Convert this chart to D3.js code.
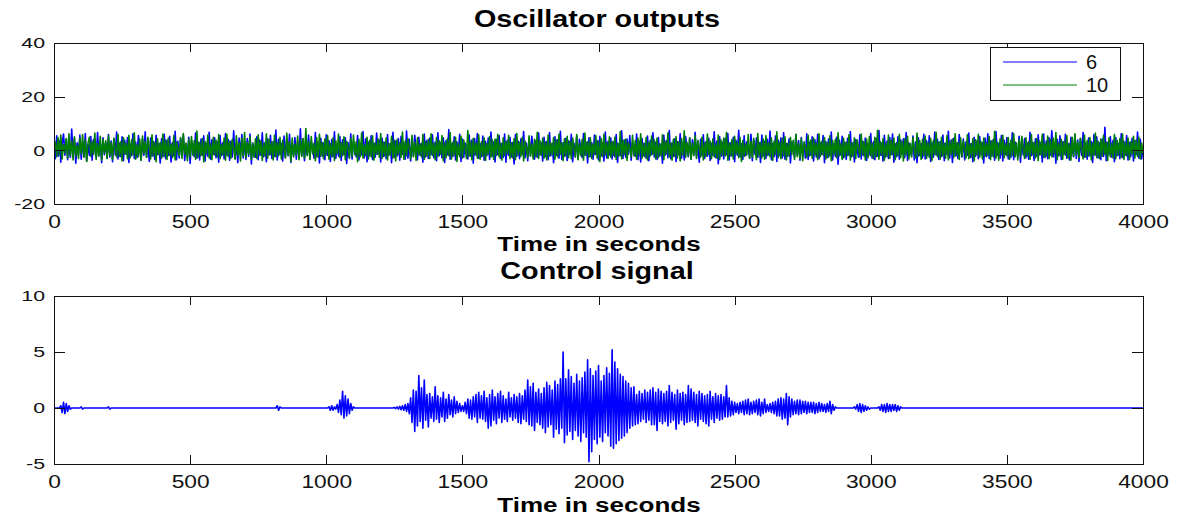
<!DOCTYPE html>
<html>
<head>
<meta charset="utf-8">
<script src="https://cdn.jsdelivr.net/npm/d3@7"></script>
<style>
    body { margin: 0; background: #fff; }
    svg { display: block; font-family: "Liberation Sans", Arial, sans-serif; }
</style>
</head>
<body>
<script>
// sample spacing of every series, in seconds
const timeStep = 5;
const xTicks = [0, 500, 1000, 1500, 2000, 2500, 3000, 3500, 4000];
const oscTicks = [-20, 0, 20, 40];
const ctrlTicks = [-5, 0, 5, 10];
const legendLabels = ["6", "10"];
const titles = ["Oscillator outputs", "Control signal"];
const xLabel = "Time in seconds";

// oscillator 6 (blue), one line = 200 s
const osc6 = [
    0.2, -3.1, 5.4, -2.2, 3.6, -4.4, 2.5, 6.1, -1.8, 4.2, -3.5, 3.0, -2.6, 7.9, -2.0, 4.5, -4.8, 2.8, -1.5, 5.7, -3.3, 3.4, -2.4, 6.3, -4.0, 2.2, -1.9, 5.1, -3.7, 4.0, 0.6, -2.8, 6.6, -2.1, 3.2, -4.6, 4.7, -1.6, 2.9, -3.0,
    5.9, -2.5, 3.5, -4.2, 4.4, -1.7, 6.8, -3.2, 2.6, -2.3, 5.0, -3.9, 3.7, -1.4, 4.8, -4.5, 2.4, -2.0, 6.2, -3.0, 3.1, -2.7, 5.5, 0.5, -3.6, 4.1, -1.8, 6.9, -2.6, 2.7, -4.1, 4.6, -2.2, 3.3, -3.4, 5.6, -1.5, 2.5, -4.7, 4.3,
    -2.4, 6.0, -3.1, 3.8, -1.9, 5.2, -4.3, 2.9, -2.1, 7.1, -3.5, 3.4, -2.8, 4.5, -1.6, 5.8, -3.8, 2.3, -2.5, 4.9, -4.9, 3.6, 0.8, -2.3, 6.4, -2.9, 3.0, -3.6, 4.2, -1.7, 5.4, -4.0, 2.6, -2.2, 6.7, -3.3, 3.9, -1.5, 4.7, -2.7,
    3.2, -4.4, 5.5, -2.0, 2.8, -3.2, 6.3, -1.8, 4.0, -3.7, 3.5, -2.5, 7.3, -3.0, 2.4, -4.6, 4.6, -1.6, 5.9, -2.8, 3.1, -3.4, 4.4, -2.2, 6.1, -5.1, 2.7, 0.4, -2.6, 5.0, -3.5, 3.8, -1.9, 6.5, -2.4, 2.9, -4.2, 4.3, -1.7, 5.6,
    -3.0, 3.3, -2.3, 7.6, -3.6, 4.1, -1.5, 2.6, -4.0, 5.3, -2.7, 3.7, -2.0, 6.0, -4.5, 2.5, -1.8, 4.8, -3.3, 3.2, -2.6, 8.0, -2.1, 4.2, -3.9, 2.8, -1.6, 5.7, -3.1, 3.5, 0.7, -2.9, 6.6, -2.4, 3.0, -4.7, 4.5, -2.2, 2.7, -3.5,
    5.8, -1.9, 3.6, -4.1, 4.0, -2.5, 6.9, -3.0, 2.4, -2.2, 5.1, -3.8, 3.9, -1.6, 4.7, -4.9, 2.9, -2.7, 6.2, -3.2, 3.4, 0.6, -2.4, 5.5, -3.6, 2.6, -1.7, 7.0, -2.8, 4.3, -4.2, 3.1, -2.0, 5.4, -3.4, 2.7, -2.6, 6.4, -1.5, 3.8,
    -4.3, 4.6, -2.3, 3.0, -3.1, 5.9, -1.8, 2.5, -4.6, 6.7, -2.6, 3.5, -2.1, 4.4, -3.7, 5.2, -1.4, 2.8, -3.3, 7.2, -2.9, 4.1, -4.0, 3.3, -2.2, 5.6, 0.5, -3.5, 4.9, -1.9, 2.6, -4.4, 6.1, -2.5, 3.7, -3.0, 4.5, -1.6, 5.8, -2.7,
    3.1, -3.9, 6.5, -2.0, 2.9, -2.8, 4.7, -4.5, 3.6, -1.7, 7.7, -3.3, 2.4, -2.3, 5.0, -3.6, 3.2, -1.5, 6.0, -4.1, 4.2, -2.6, 2.7, 0.9, -3.2, 5.7, -2.1, 3.8, -4.8, 4.4, -1.8, 6.3, -2.9, 2.5, -2.4, 5.3, -3.7, 3.4, -2.0, 4.6,
    -3.4, 6.8, -2.2, 3.1, -4.3, 4.0, -1.6, 5.5, -3.0, 2.6, -2.7, 6.1, -4.4, 3.7, -1.9, 4.8, -2.5, 2.9, -5.1, 5.9, -2.3, 3.4, -3.1, 4.3, -1.5, 7.0, -2.8, 2.7, -3.9, 4.6, -2.1, 5.2, 0.4, -3.3, 3.6, -2.6, 6.4, -1.7, 2.8, -4.0,
    4.9, -2.4, 3.3, -3.5, 6.6, -2.0, 2.5, -4.6, 5.0, -1.8, 3.9, -2.9, 7.1, -3.4, 2.8, -2.2, 4.5, -3.8, 3.5, -1.6, 6.0, -4.2, 2.6, -2.5, 5.4, -3.1, 4.1, 0.7, -2.7, 6.3, -1.9, 3.0, -4.7, 4.7, -2.3, 2.9, -3.3, 5.7, -1.5, 3.6,
    -3.6, 5.2, -2.1, 2.7, -4.0, 6.8, -2.8, 3.4, -1.7, 4.6, -3.2, 3.1, -2.4, 5.9, -4.5, 2.5, -1.9, 7.3, -3.0, 3.8, -2.6, 4.2, -1.4, 5.5, -3.7, 2.9, 0.6, -2.2, 6.1, -3.5, 3.3, -4.3, 4.4, -2.0, 2.6, -2.9, 5.3, -3.9, 3.7, -1.6,
    6.5, -2.5, 3.0, -3.4, 4.8, -2.1, 2.4, -4.8, 5.6, -1.8, 3.6, -2.7, 7.4, -3.1, 2.8, -2.3, 4.3, -4.1, 3.2, -1.5, 6.2, -2.9, 2.5, -3.6, 5.1, 0.8, -2.4, 4.7, -3.3, 3.9, -1.7, 6.7, -2.6, 2.7, -4.4, 4.1, -2.0, 5.8, -3.0, 3.3,
    -2.2, 4.5, -3.8, 2.6, -1.9, 6.9, -2.7, 3.5, -5.0, 5.0, -2.3, 3.0, -3.2, 4.4, -1.6, 6.3, -3.6, 2.8, -2.1, 4.9, -4.2, 3.7, -1.8, 7.5, -2.5, 2.4, -3.4, 5.4, -2.0, 3.2, 0.5, -2.8, 6.0, -3.9, 3.6, -1.5, 4.6, -2.6, 2.9, -4.5,
    5.7, -2.1, 3.4, -3.0, 4.1, -1.7, 7.2, -3.5, 2.6, -2.4, 5.3, -4.1, 3.8, -1.9, 4.7, -2.8, 6.5, -3.3, 2.5, -2.2, 4.3, -4.7, 3.1, 0.9, -2.6, 5.9, -1.6, 3.6, -3.7, 4.8, -2.3, 2.7, -2.9, 6.2, -3.4, 3.0, -1.8, 5.0, -4.0, 3.9,
    -2.5, 6.0, -3.1, 2.8, -1.5, 5.5, -4.6, 3.3, -2.7, 4.2, -2.0, 6.8, -3.6, 2.5, -2.3, 4.9, -5.2, 3.7, -1.7, 5.2, -2.8, 3.0, -3.4, 4.5, -1.9, 7.0, -2.4, 2.9, -4.3, 4.0, 0.6, -2.6, 5.8, -3.2, 3.4, -2.1, 4.6, -3.8, 2.6, -1.6,
    6.3, -2.9, 3.2, -3.5, 4.4, -2.2, 7.4, -1.8, 2.7, -4.0, 5.6, -2.5, 3.5, -3.0, 4.8, -1.6, 6.1, -4.4, 2.4, -2.4, 5.0, -3.3, 3.9, -1.5, 4.3, -2.7, 6.6, -3.8, 2.8, 0.7, -2.2, 5.3, -3.6, 3.1, -4.6, 4.7, -1.9, 2.5, -2.8, 6.0,
    -3.2, 3.6, -2.0, 5.4, -4.1, 2.9, -2.6, 6.8, -1.7, 4.1, -3.4, 3.3, -2.3, 5.7, -3.9, 2.6, -1.5, 7.1, -2.8, 3.8, -4.5, 4.5, -2.1, 2.7, -3.0, 5.9, 0.8, -2.5, 4.2, -3.6, 3.2, -1.8, 6.4, -2.7, 2.5, -4.2, 4.9, -2.2, 3.5, -3.1,
    5.1, -1.6, 2.8, -4.7, 4.6, -2.4, 6.2, -3.0, 3.4, -2.1, 4.0, -3.7, 7.0, -1.9, 2.6, -2.9, 5.5, -4.0, 3.7, -1.5, 4.8, -3.2, 2.4, -2.6, 6.5, -3.5, 3.1, 0.5, -2.3, 5.2, -4.4, 3.9, -1.7, 4.4, -2.8, 2.7, -3.3, 6.7, -2.0, 3.0,
    -3.8, 4.3, -2.2, 5.8, -1.6, 2.9, -4.3, 6.1, -2.7, 3.5, -3.1, 4.7, -1.8, 7.3, -2.5, 2.6, -4.8, 4.1, -2.0, 5.4, -3.4, 3.2, -1.5, 6.0, -2.9, 2.5, -3.6, 4.9, 0.7, -2.4, 5.6, -3.0, 3.8, -4.1, 4.4, -1.9, 6.6, -2.6, 2.8, -3.3,
    4.6, -2.1, 3.3, -4.5, 5.9, -1.7, 5.0, -2.8, 2.7, -3.5, 4.2, -2.3, 8.6, -3.9, 3.0, -1.6, 5.1, -2.6, 3.7, -4.2, 4.8, -2.0, 2.5, -3.1, 6.2, -2.7, 3.4, -1.8, 5.5, -3.6, 2.9, -2.4, 4.5, -4.0, 3.6, -1.5, 6.8, -2.9, 4.1, -3.2,
    1.0
];

// oscillator 10 (green), one line = 200 s
const osc10 = [
    0.5, 3.1, -2.4, 4.8, -1.6, 5.7, -3.2, 2.2, -0.9, 4.4, -2.8, 6.2, -1.9, 3.5, -3.6, 5.0, -2.1, 1.8, -3.0, 4.6, -1.3, 5.9, -2.6, 3.8, -4.1, 2.7, 4.9, -2.2, 3.3, -1.5, 6.4, -3.4, 2.5, -2.0, 5.2, -3.7, 4.0, -1.1, 3.6, -2.9,
    5.4, -1.8, 2.9, -3.5, 4.5, 0.7, -2.5, 6.0, -2.3, 3.2, -4.0, 4.7, -1.4, 2.6, -3.1, 5.6, -2.7, 3.9, -1.7, 6.5, -3.3, 2.1, -2.4, 4.2, -3.8, 5.3, -1.2, 3.4, -2.6, 4.9, 1.2, -3.2, 5.8, -2.0, 3.0, -4.2, 4.3, -1.6, 2.8, -2.9,
    6.1, -2.2, 3.7, -3.4, 4.6, -1.9, 2.3, -2.7, 5.5, -3.6, 3.1, 0.5, -2.1, 4.8, -3.0, 6.3, -1.5, 2.7, -3.9, 4.1, -2.4, 5.1, -1.8, 3.6, -3.3, 7.2, -2.6, 2.9, -2.0, 4.4, -4.3, 3.3, -1.3, 5.7, -2.8, 2.4, -3.5, 4.9, -1.7, 3.8,
    -2.5, 5.9, -3.1, 2.2, -1.6, 4.7, -3.7, 6.0, -2.3, 3.4, -2.9, 4.1, 0.9, -3.3, 5.4, -1.9, 2.8, -4.0, 4.5, -2.2, 6.6, -2.7, 3.0, -1.4, 5.0, -3.4, 2.5, -2.6, 4.3, -3.0, 5.8, -1.7, 3.5, -3.8, 2.6, -2.1, 6.2, -2.9, 4.0, -1.5,
    3.2, -3.6, 5.6, -2.4, 2.9, -2.0, 4.9, -3.2, 3.7, 0.4, -2.8, 6.4, -1.8, 3.1, -4.1, 4.6, -2.5, 2.3, -1.6, 5.3, -3.5, 3.9, -2.2, 4.4, -2.9, 8.1, -2.0, 3.3, -3.4, 5.1, -1.3, 2.6, -3.9, 4.8, -2.6, 6.0, -2.1, 3.0, -3.1, 4.2,
    -1.7, 5.5, -3.3, 2.4, -2.3, 4.7, -3.8, 3.6, -1.2, 6.1, -2.7, 2.9, -2.0, 5.0, -3.5, 3.4, 1.0, -2.9, 4.5, -2.2, 5.7, -1.6, 3.2, -4.2, 4.1, -2.4, 6.5, -2.8, 2.2, -1.9, 4.9, -3.2, 3.8, -2.5, 5.4, -3.7, 2.7, -1.4, 4.3, -2.6,
    6.3, -3.0, 3.1, -2.1, 4.6, -3.6, 2.5, -1.8, 5.2, -2.9, 3.7, -4.0, 4.0, -1.5, 2.8, -2.6, 6.8, -3.3, 3.5, -2.0, 4.4, 0.6, -3.1, 5.6, -2.4, 3.0, -3.8, 4.7, -1.7, 2.3, -2.5, 5.9, -3.4, 3.3, -2.2, 4.1, -3.0, 6.2, -1.9, 2.6,
    -3.5, 4.8, -2.3, 3.6, -1.4, 5.5, -3.9, 2.9, -2.7, 4.3, -2.0, 6.6, -3.2, 3.1, -1.8, 4.9, -4.1, 2.4, -2.4, 5.3, -2.8, 3.8, 0.8, -3.0, 7.4, -2.2, 3.4, -3.6, 4.5, -1.6, 2.7, -2.9, 5.8, -3.3, 3.2, -2.1, 4.6, -3.8, 2.5, -1.5,
    5.1, -2.6, 3.9, -3.4, 4.2, -1.9, 6.0, -2.5, 2.6, -3.7, 4.7, -2.0, 3.3, -1.3, 5.6, -3.1, 2.8, -2.8, 4.4, -3.5, 6.3, -1.7, 3.0, -2.3, 4.9, -4.0, 3.5, 0.7, -2.7, 5.4, -2.1, 2.3, -3.2, 4.1, -2.4, 6.7, -3.0, 3.6, -1.8, 4.5,
    -2.9, 3.1, -3.6, 5.7, -2.2, 2.7, -1.6, 4.8, -3.3, 3.8, -2.5, 6.1, -1.4, 2.9, -3.9, 4.3, -2.1, 5.2, -2.7, 3.4, -3.1, 4.6, 1.1, -2.4, 5.9, -3.5, 2.5, -2.0, 4.0, -3.7, 6.4, -1.9, 3.2, -2.6, 4.7, -3.0, 2.4, -1.5, 5.5, -2.8,
    3.5, -4.2, 4.4, -2.3, 6.0, -1.7, 2.8, -3.0, 5.0, -2.6, 3.3, -1.9, 4.9, -3.4, 2.6, -2.2, 7.0, -3.1, 3.7, -1.6, 4.2, -3.8, 2.9, 0.6, -2.5, 5.6, -2.0, 3.6, -3.3, 4.5, -1.8, 6.2, -2.9, 2.5, -2.4, 4.8, -3.6, 3.1, -2.1, 5.3,
    -1.5, 3.9, -3.2, 4.6, -2.7, 2.3, -2.0, 5.8, -3.5, 3.4, -1.3, 6.5, -2.4, 2.7, -3.7, 4.1, -2.2, 5.1, -2.8, 3.2, -4.0, 4.4, -1.7, 7.3, -2.6, 3.0, -2.1, 4.7, -3.3, 2.6, -1.9, 5.4, -3.0, 3.7, 0.9, -2.5, 4.9, -3.6, 2.8, -2.3,
    6.1, -1.6, 3.5, -3.1, 4.3, -2.4, 2.5, -2.9, 5.7, -3.4, 3.9, -1.8, 4.6, -2.2, 6.6, -3.7, 2.7, -2.0, 4.0, -3.2, 5.2, -1.4, 3.1, -2.7, 4.8, -4.1, 3.6, -2.3, 2.4, -1.7, 5.9, -3.0, 3.3, -2.6, 4.5, 0.5, -3.5, 6.3, -2.1, 2.9,
    -2.8, 4.2, -3.3, 5.5, -1.9, 2.8, -2.5, 4.7, -3.8, 3.5, -1.5, 6.9, -2.7, 3.0, -3.1, 4.4, -2.0, 5.0, -3.6, 2.6, -2.2, 4.9, -1.6, 3.7, -3.4, 6.0, -2.4, 2.5, -2.9, 4.3, -3.9, 3.2, 1.0, -2.6, 5.6, -2.1, 3.8, -3.0, 4.6, -1.8,
    2.7, -3.5, 6.2, -2.3, 3.4, -1.7, 4.8, -3.2, 2.9, -2.6, 5.4, -3.9, 3.6, -1.4, 4.1, -2.8, 6.5, -2.0, 2.4, -3.4, 4.5, -2.5, 3.1, -1.9, 5.8, -3.7, 2.8, -2.2, 4.7, -3.0, 3.9, 0.7, -2.4, 6.1, -1.6, 3.3, -3.6, 4.2, -2.7, 5.1,
    -2.1, 2.6, -3.1, 4.9, -2.4, 7.5, -3.3, 3.2, -1.8, 4.4, -3.7, 2.7, -2.3, 5.7, -2.9, 3.8, -1.5, 4.6, -3.5, 2.9, -2.0, 6.0, -2.7, 3.4, -4.0, 4.3, -1.7, 5.2, -3.2, 2.5, -2.5, 4.8, 0.4, -2.8, 6.4, -2.2, 3.6, -3.4, 4.1, -1.9,
    5.3, -3.0, 2.8, -2.6, 4.5, -3.8, 3.7, -1.6, 6.7, -2.4, 3.1, -3.3, 4.9, -2.1, 2.6, -2.9, 5.5, -3.6, 3.4, -1.4, 4.2, -2.7, 6.2, -2.0, 2.9, -3.4, 4.7, -2.3, 3.5, 1.1, -2.8, 5.8, -3.1, 2.4, -2.5, 4.4, -3.9, 3.9, -1.7, 6.0,
    -2.6, 3.3, -3.2, 4.6, -2.2, 2.7, -1.8, 5.1, -3.5, 3.6, -2.4, 7.1, -2.9, 3.0, -3.7, 4.3, -1.5, 5.6, -2.7, 2.5, -2.1, 4.8, -3.3, 3.8, -1.9, 6.3, -2.5, 2.8, -3.6, 4.0, -2.3, 5.2, 0.8, -3.0, 4.7, -2.0, 3.2, -3.4, 5.9, -1.6,
    2.9, -2.8, 4.4, -3.9, 3.5, -1.7, 6.0, -2.6, 2.6, -2.2, 5.3, -3.1, 3.9, -2.4, 4.6, -1.4, 6.6, -3.5, 2.7, -2.0, 4.1, -3.3, 3.3, -1.8, 5.5, -2.9, 2.4, -3.7, 4.9, -2.3, 6.2, -1.6, 3.1, -2.7, 4.5, 0.6, -3.2, 5.7, -2.5, 3.6,
    -2.1, 4.8, -3.6, 2.8, -1.9, 6.4, -2.7, 3.4, -3.0, 4.2, -2.2, 5.6, -1.5, 3.0, -3.8, 4.7, -2.4, 2.5, -2.8, 5.9, -3.1, 3.7, -1.7, 4.4, -2.6, 6.1, -3.4, 2.9, -2.0, 4.6, -3.5, 3.2, -1.4, 5.2, -2.9, 3.8, -2.3, 4.9, -3.2, 2.7,
    -1.2
];

// control signal, one line = 200 s
const control = [
    0, 0, 0, 0, 0, 0.2, -0.4, 0.5, -0.5, 0.4, -0.3, 0.2, -0.1, 0, 0, 0, 0, 0, 0, 0, 0.1, -0.1, 0, 0, 0, 0, 0, 0, 0, 0, 0, 0, 0, 0, 0, 0, 0, 0, 0, 0,
    0.1, -0.1, 0, 0, 0, 0, 0, 0, 0, 0, 0, 0, 0, 0, 0, 0, 0, 0, 0, 0, 0, 0, 0, 0, 0, 0, 0, 0, 0, 0, 0, 0, 0, 0, 0, 0, 0, 0, 0, 0,
    0, 0, 0, 0, 0, 0, 0, 0, 0, 0, 0, 0, 0, 0, 0, 0, 0, 0, 0, 0, 0, 0, 0, 0, 0, 0, 0, 0, 0, 0, 0, 0, 0, 0, 0, 0, 0, 0, 0, 0,
    0, 0, 0, 0, 0, 0, 0, 0, 0, 0, 0, 0, 0, 0, 0, 0, 0, 0, 0, 0, 0, 0, 0, 0, 0, 0, 0, 0, 0, 0, 0, 0, 0, 0, 0, 0, 0, 0, 0, 0,
    0, 0, 0, 0, 0.2, -0.2, 0.1, 0, 0, 0, 0, 0, 0, 0, 0, 0, 0, 0, 0, 0, 0, 0, 0, 0, 0, 0, 0, 0, 0, 0, 0, 0, 0, 0, 0, 0, 0, 0, 0, 0,
    0, 0, 0.1, -0.2, 0.2, -0.2, 0.1, -0.1, 0.3, -0.4, 0.7, -0.6, 1.5, -0.9, 1.1, -0.7, 0.8, -0.5, 0.4, -0.2, 0.1, 0, 0, 0, 0, 0, 0, 0, 0, 0, 0, 0, 0, 0, 0, 0, 0, 0, 0, 0,
    0, 0, 0, 0, 0, 0, 0, 0, 0, 0, 0.05, -0.05, 0.1, -0.1, 0.15, -0.15, 0.2, -0.2, 0.3, -0.3, 0.4, -0.5, 0.9, -1.3, 1.6, -2.1, 1.5, -1.6, 2.9, -1.2, 1.8, -1.8, 2.5, -1.1, 1.2, -1.7, 1.3, -0.9, 1.0, -1.2,
    1.9, -1.0, 1.1, -1.3, 0.9, -0.8, 1.4, -1.2, 0.8, -0.9, 1.2, -0.6, 0.7, -0.8, 1.0, -0.5, 0.6, -0.4, 0.4, -0.3, 0.2, -0.3, 0.5, -0.5, 0.8, -0.9, 0.7, -1.0, 1.0, -0.8, 1.2, -1.3, 1.4, -0.9, 1.1, -1.0, 1.5, -1.2, 0.9, -1.8,
    1.2, -1.6, 1.6, -1.1, 1.0, -1.4, 1.3, -0.9, 1.5, -1.3, 1.1, -1.0, 0.8, -1.2, 1.4, -0.8, 0.9, -1.1, 1.2, -0.9, 1.0, -1.3, 1.3, -1.4, 1.1, -1.0, 1.6, -1.2, 2.5, -1.5, 1.9, -1.6, 2.2, -2.0, 1.4, -1.3, 1.7, -1.5, 1.3, -1.8,
    1.8, -2.2, 2.3, -1.7, 2.0, -1.5, 1.6, -2.6, 2.4, -1.9, 2.1, -2.3, 2.6, -1.8, 5.0, -3.1, 2.6, -2.4, 3.4, -2.1, 2.8, -2.8, 2.2, -2.0, 3.0, -2.5, 2.4, -3.0, 2.7, -2.2, 3.2, -2.6, 4.3, -4.8, 3.5, -3.9, 2.9, -2.8, 3.3, -3.2,
    3.8, -2.6, 2.4, -3.0, 2.9, -2.2, 3.6, -2.5, 3.1, -3.4, 5.2, -3.6, 4.1, -3.2, 3.5, -2.9, 3.0, -2.7, 2.8, -2.5, 2.4, -2.2, 2.2, -1.8, 1.8, -1.6, 1.9, -1.5, 1.2, -1.4, 1.5, -1.2, 1.3, -1.0, 1.6, -1.3, 1.4, -1.1, 1.6, -1.5,
    1.8, -1.5, 1.4, -2.0, 1.7, -1.2, 1.5, -1.4, 1.3, -1.2, 1.5, -1.6, 2.0, -1.3, 1.4, -1.1, 1.2, -1.9, 1.6, -1.4, 1.3, -1.1, 1.4, -1.5, 1.2, -1.3, 2.0, -1.2, 1.7, -1.1, 1.4, -1.3, 1.2, -1.6, 1.5, -1.0, 1.3, -1.2, 1.1, -1.4,
    1.2, -1.6, 1.5, -1.0, 1.0, -1.3, 1.3, -0.9, 1.1, -1.1, 1.2, -1.0, 1.0, -0.8, 2.0, -0.8, 0.9, -0.7, 0.6, -0.6, 0.5, -0.4, 0.4, -0.5, 0.5, -0.4, 0.6, -0.6, 0.7, -0.5, 0.8, -0.6, 0.5, -0.5, 0.6, -0.4, 0.7, -0.6, 0.8, -0.7,
    0.5, -0.5, 0.8, -0.4, 0.3, -0.3, 0.4, -0.4, 0.5, -0.5, 0.6, -0.7, 0.8, -0.7, 0.9, -1.0, 0.8, -0.9, 1.3, -1.5, 1.0, -0.8, 0.8, -0.6, 0.6, -0.5, 0.7, -0.6, 0.7, -0.5, 0.6, -0.4, 0.6, -0.5, 0.5, -0.4, 0.5, -0.4, 0.5, -0.5,
    0.4, -0.4, 0.5, -0.3, 0.4, -0.3, 0.3, -0.4, 0.4, -0.3, 0.6, -0.5, 0.3, -0.2, 0.1, 0, 0, 0, 0, 0, 0, 0, 0, 0, 0, 0, 0, 0, 0.1, -0.1, 0.3, -0.3, 0.4, -0.4, 0.3, -0.3, 0.2, -0.2, 0.1, -0.1,
    0, 0, 0, 0, 0, 0, 0.1, -0.2, 0.3, -0.3, 0.3, -0.4, 0.4, -0.3, 0.3, -0.3, 0.3, -0.2, 0.3, -0.3, 0.2, -0.2, 0.1, 0, 0, 0, 0, 0, 0, 0, 0, 0, 0, 0, 0, 0, 0, 0, 0, 0,
    0, 0, 0, 0, 0, 0, 0, 0, 0, 0, 0, 0, 0, 0, 0, 0, 0, 0, 0, 0, 0, 0, 0, 0, 0, 0, 0, 0, 0, 0, 0, 0, 0, 0, 0, 0, 0, 0, 0, 0,
    0, 0, 0, 0, 0, 0, 0, 0, 0, 0, 0, 0, 0, 0, 0, 0, 0, 0, 0, 0, 0, 0, 0, 0, 0, 0, 0, 0, 0, 0, 0, 0, 0, 0, 0, 0, 0, 0, 0, 0,
    0, 0, 0, 0, 0, 0, 0, 0, 0, 0, 0, 0, 0, 0, 0, 0, 0, 0, 0, 0, 0, 0, 0, 0, 0, 0, 0, 0, 0, 0, 0, 0, 0, 0, 0, 0, 0, 0, 0, 0,
    0, 0, 0, 0, 0, 0, 0, 0, 0, 0, 0, 0, 0, 0, 0, 0, 0, 0, 0, 0, 0, 0, 0, 0, 0, 0, 0, 0, 0, 0, 0, 0, 0, 0, 0, 0, 0, 0, 0, 0,
    0
];

document.addEventListener('DOMContentLoaded', () => {
    const width = 1183;
    const height = 518;
    const left = 54;
    const right = 1143;

    // the original figure's text is drawn wide, so glyphs are stretched sideways
    const stretch = (sel, k) => sel.each(function () {
        const w = this.getComputedTextLength();
        d3.select(this).attr("textLength", w * k).attr("lengthAdjust", "spacingAndGlyphs");
    });

    const svg = d3.select("body").append("svg")
        .attr("width", width)
        .attr("height", height);

    const xScale = d3.scaleLinear()
        .domain([0, 4000])
        .range([left, right]);

    function drawPanel(id, top, bottom, yDomain, yTicks, title, titleY, labelY, series) {
        const yScale = d3.scaleLinear()
            .domain(yDomain)
            .range([bottom, top]);

        const g = svg.append("g").attr("id", id);

        g.append("clipPath").attr("id", id + "-clip")
            .append("rect")
            .attr("x", left).attr("y", top)
            .attr("width", right - left).attr("height", bottom - top);

        const line = d3.line()
            .x((d, i) => xScale(i * timeStep))
            .y(d => yScale(d));

        g.append("g")
            .attr("clip-path", `url(#${id}-clip)`)
            .selectAll("path")
            .data(series)
            .enter()
            .append("path")
            .attr("d", s => line(s.values))
            .attr("fill", "none")
            .attr("stroke", s => s.color)
            .attr("stroke-width", 1.6)
            .attr("stroke-linejoin", "round");

        const xAxis = g.append("g")
            .attr("transform", `translate(0, ${bottom})`)
            .call(d3.axisBottom(xScale).tickValues(xTicks).tickSizeInner(-9).tickSizeOuter(0).tickPadding(11.5).tickFormat(d => String(d)));

        const xTop = g.append("g")
            .attr("transform", `translate(0, ${top})`)
            .call(d3.axisTop(xScale).tickValues(xTicks).tickSizeInner(-9).tickSizeOuter(0).tickFormat(""));

        const yAxis = g.append("g")
            .attr("transform", `translate(${left}, 0)`)
            .call(d3.axisLeft(yScale).tickValues(yTicks).tickSizeInner(-11).tickSizeOuter(0).tickPadding(9).tickFormat(d => String(d)));

        const yRight = g.append("g")
            .attr("transform", `translate(${right}, 0)`)
            .call(d3.axisRight(yScale).tickValues(yTicks).tickSizeInner(-11).tickSizeOuter(0).tickFormat(""));

        [xAxis, xTop, yAxis, yRight].forEach(a => {
            a.select(".domain").remove();
            a.selectAll("line").attr("stroke", "#111").attr("shape-rendering", "crispEdges");
            a.attr("font-family", null).attr("font-size", null);
        });

        xAxis.selectAll("text")
            .attr("fill", "#111")
            .style("font-size", "17.5px")
            .call(stretch, 1.3);

        yAxis.selectAll("text")
            .attr("fill", "#111")
            .attr("dy", "0.33em")
            .style("font-size", "15px")
            .call(stretch, 1.42);

        g.append("rect")
            .attr("x", left).attr("y", top)
            .attr("width", right - left).attr("height", bottom - top)
            .attr("fill", "none")
            .attr("stroke", "#111")
            .attr("shape-rendering", "crispEdges");

        g.append("text")
            .attr("x", 597).attr("y", titleY)
            .attr("text-anchor", "middle")
            .style("font-size", "23px")
            .style("font-weight", "bold")
            .text(title)
            .call(stretch, 1.25);

        g.append("text")
            .attr("x", 599).attr("y", labelY)
            .attr("text-anchor", "middle")
            .style("font-size", "20px")
            .style("font-weight", "bold")
            .text(xLabel)
            .call(stretch, 1.3);

        return yScale;
    }

    drawPanel("osc", 43, 204, [-20, 40], oscTicks, titles[0], 27, 251, [
        { values: osc6, color: "#0000ff" },
        { values: osc10, color: "#008000" }
    ]);

    drawPanel("ctrl", 296, 464, [-5, 10], ctrlTicks, titles[1], 279, 512, [
        { values: control, color: "#0000ff" }
    ]);

    // legend of the top panel
    const legendColors = ["#0000ff", "#008000"];
    const legend = svg.append("g").attr("id", "legend");

    legend.append("rect")
        .attr("x", 990).attr("y", 47)
        .attr("width", 130).attr("height", 53)
        .attr("fill", "#fff")
        .attr("stroke", "#111")
        .attr("shape-rendering", "crispEdges");

    const items = legend.selectAll(".item")
        .data(legendLabels)
        .enter()
        .append("g")
        .attr("class", "item")
        .attr("transform", (d, i) => `translate(0, ${62 + i * 23})`);

    items.append("line")
        .attr("x1", 1003).attr("x2", 1077)
        .attr("stroke", (d, i) => legendColors[i])
        .attr("stroke-width", 1);

    items.append("text")
        .attr("x", 1086)
        .attr("dy", "0.36em")
        .style("font-size", "20px")
        .attr("fill", "#111")
        .text(d => d);
});
</script>
</body>
</html>
